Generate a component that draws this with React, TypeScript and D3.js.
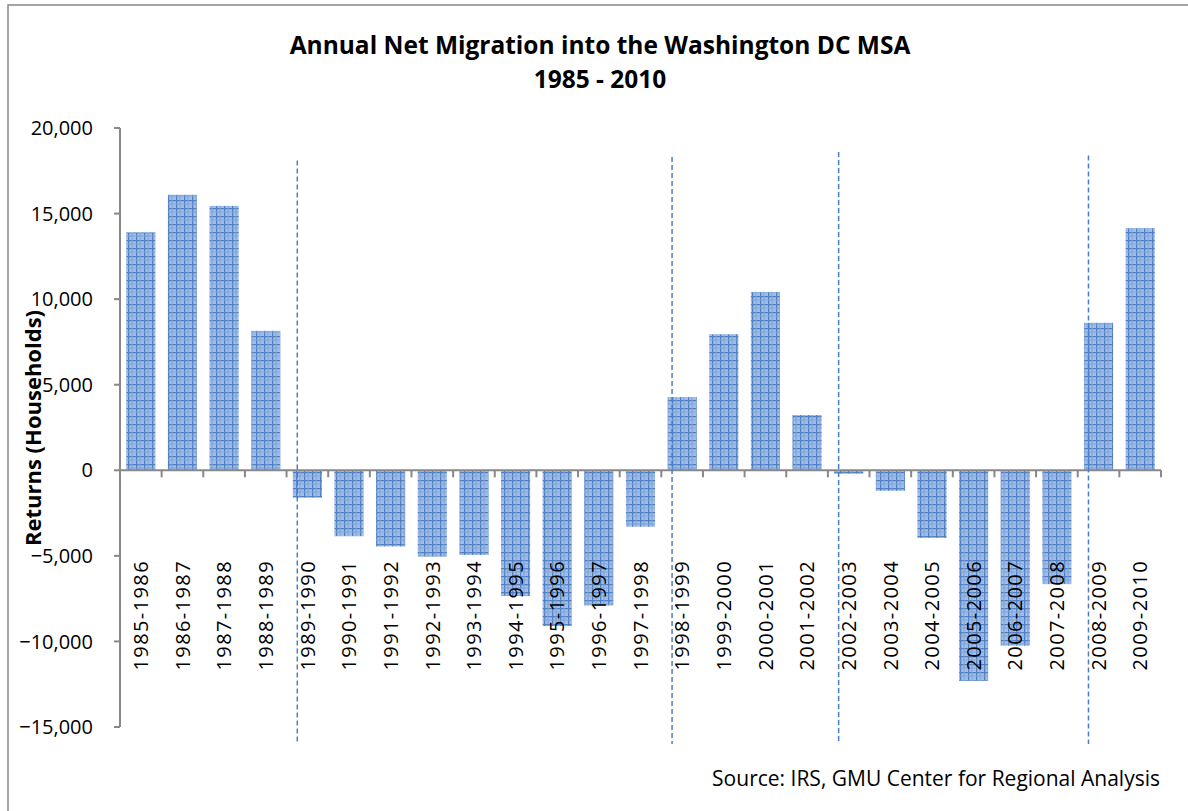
import React from "react";
import * as d3 from "d3";

const categories = [
  "1985-1986", "1986-1987", "1987-1988", "1988-1989", "1989-1990", "1990-1991",
  "1991-1992", "1992-1993", "1993-1994", "1994-1995", "1995-1996", "1996-1997",
  "1997-1998", "1998-1999", "1999-2000", "2000-2001", "2001-2002", "2002-2003",
  "2003-2004", "2004-2005", "2005-2006", "2006-2007", "2007-2008", "2008-2009",
  "2009-2010",
];
const netMigration = [
  13900, 16100, 15450, 8150, -1600, -3850, -4450, -5050, -4950, -7350, -9100,
  -7900, -3300, 4280, 7950, 10420, 3230, -200, -1200, -3950, -12300, -10250,
  -6650, 8620, 14150,
];
const yTicks = [20000, 15000, 10000, 5000, 0, -5000, -10000, -15000];
const dividerCategories = ["1989-1990", "1998-1999", "2002-2003", "2008-2009"];
const dividerTops = [18100, 18300, 18600, 18400];
const dividerBottoms = [-16000, -16000, -15850, -16000];

const titleLines = ["Annual Net Migration into the Washington DC MSA", "1985 - 2010"];
const yTitle = "Returns (Households)";
const sourceText = "Source: IRS, GMU Center for Regional Analysis";

export default function App() {
  const W = 1188;
  const H = 811;
  const left = 120;
  const right = 1161;
  const top = 128;
  const bottom = 727;

  const x = d3.scaleBand<string>().domain(categories).range([left, right]).paddingInner(0.3).paddingOuter(0.15);
  const y = d3.scaleLinear().domain([-15000, 20000]).range([bottom, top]);
  const step = x.step();
  const fmt = d3.format(",");
  const axisColor = "#888888";
  const font = "'Open Sans', Lato, sans-serif";

  const boundaries = d3.range(categories.length + 1).map((i) => left + i * step);

  return (
    <svg width={W} height={H} style={{ position: "absolute", left: 0, top: 0, display: "block" }}>
      <defs>
        <pattern id="plaid" width="8" height="8" patternUnits="userSpaceOnUse">
          <rect width="8" height="8" fill="#a6c0e8" />
          <rect x="0" y="0" width="1.3" height="8" fill="#4f80c4" />
          <rect x="0" y="0" width="8" height="1.3" fill="#4f80c4" />
          <rect x="3.5" y="0" width="1" height="8" fill="#7aa0d6" />
          <rect x="0" y="3.5" width="8" height="1" fill="#7aa0d6" />
          <rect x="6" y="6" width="1" height="1" fill="#8fb0e0" />
        </pattern>
      </defs>
      <rect x={0} y={0} width={W} height={H} fill="#ffffff" />
      <rect x={8} y={5} width={W + 20} height={H + 20} fill="none" stroke={axisColor} strokeWidth={1.5} />

      {/* Title */}
      {titleLines.map((t, i) => (
        <text key={t} x={600} y={54 + i * 34} textAnchor="middle" fontFamily={font} fontWeight={700} fontSize={24.5} fill="#000">
          {t}
        </text>
      ))}

      {/* Bars */}
      {categories.map((c, i) => {
        const v = netMigration[i];
        return (
          <rect
            key={c}
            x={x(c)}
            y={y(Math.max(0, v))}
            width={x.bandwidth()}
            height={Math.abs(y(v) - y(0))}
            fill="url(#plaid)"
          />
        );
      })}

      {/* Y axis */}
      <line x1={left} x2={left} y1={top} y2={bottom} stroke={axisColor} strokeWidth={2} />
      {yTicks.map((t) => (
        <g key={t}>
          <line x1={left - 6} x2={left} y1={y(t)} y2={y(t)} stroke={axisColor} strokeWidth={2} />
          <text x={93} y={y(t)} dy="0.36em" textAnchor="end" fontFamily={font} fontSize={20} fill="#000">
            {fmt(t)}
          </text>
        </g>
      ))}

      {/* X axis */}
      <line x1={left} x2={right} y1={y(0)} y2={y(0)} stroke={axisColor} strokeWidth={2} />
      {boundaries.map((b, i) => (
        <line key={i} x1={b} x2={b} y1={y(0)} y2={y(0) + 7} stroke={axisColor} strokeWidth={2} />
      ))}
      {categories.map((c) => {
        const cx = (x(c) as number) + x.bandwidth() / 2;
        const ly = 560;
        return (
          <text
            key={c}
            transform={`translate(${cx},${ly}) rotate(-90)`}
            dy="0.36em"
            textAnchor="end"
            fontFamily={font}
            fontSize={20}
            letterSpacing={1.4}
            fill="#000"
          >
            {c}
          </text>
        );
      })}

      {/* Divider dashed lines */}
      {dividerCategories.map((c, i) => {
        const dx = (x(c) as number) + 4.5;
        return (
          <line
            key={c}
            x1={dx}
            x2={dx}
            y1={y(dividerTops[i])}
            y2={y(dividerBottoms[i])}
            stroke="#4a7ec4"
            strokeWidth={1.5}
            strokeDasharray="5,3"
          />
        );
      })}

      {/* Y title */}
      <text
        transform={`translate(33,428) rotate(-90)`}
        dy="0.36em"
        textAnchor="middle"
        fontFamily={font}
        fontWeight={700}
        fontSize={22}
        fill="#000"
      >
        {yTitle}
      </text>

      {/* Source */}
      <text x={1160} y={786} textAnchor="end" fontFamily={font} fontSize={21} fill="#000">
        {sourceText}
      </text>
    </svg>
  );
}
